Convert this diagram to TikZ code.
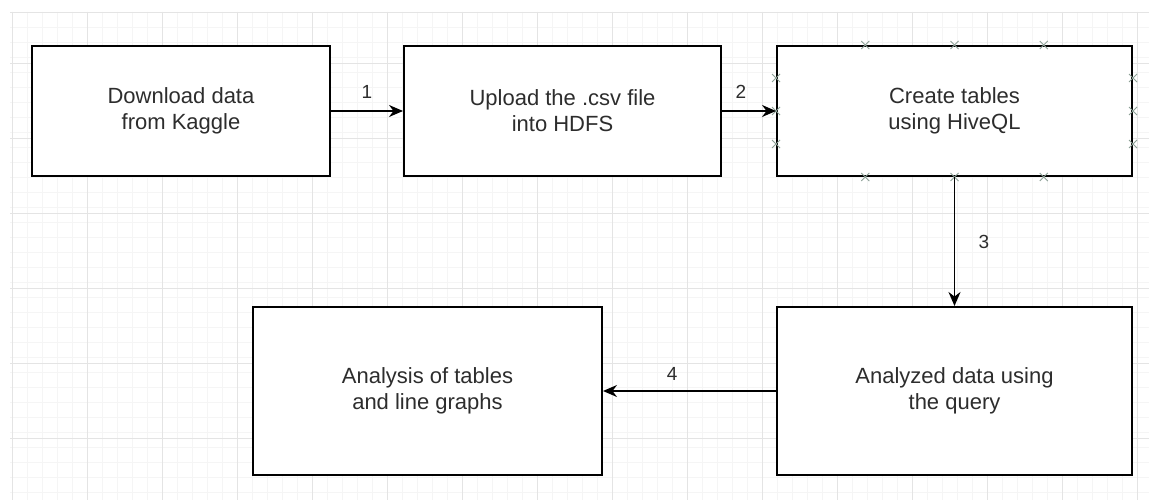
\documentclass[tikz,border=0pt]{standalone}
\usepackage{fontspec}
\setmainfont{Liberation Sans}
\usetikzlibrary{arrows.meta,positioning,calc}
\definecolor{gridmajor}{RGB}{228,228,228}
\definecolor{gridminor}{RGB}{245,245,245}
\definecolor{txtgray}{RGB}{45,45,45}
\definecolor{pingray}{RGB}{140,160,150}

\begin{document}
\begin{tikzpicture}[x=1pt,y=-1pt,
  stepbox/.style={draw=black, line width=2pt, fill=white, text=txtgray, align=center,
    font=\fontsize{22}{26}\selectfont, inner sep=0pt},
  flow/.style={draw=black, line width=1.8pt, -{Stealth[length=14pt,width=12pt]}},
  steplabel/.style={font=\fontsize{19}{21}\selectfont, text=txtgray},
  pin/.style={draw=pingray, line width=0.9pt}]
\useasboundingbox (0,0) rectangle (1149,500);
\fill[white] (0,0) rectangle (1149,500);
% Background grid
\foreach \gx in {12,27,...,1149} \draw[gridminor, line width=0.6pt] (\gx,12) -- (\gx,500);
\foreach \gy in {12,27,...,500} \draw[gridminor, line width=0.6pt] (10,\gy) -- (1149,\gy);
\foreach \gx in {12,87,...,1149} \draw[gridmajor, line width=0.8pt] (\gx,12) -- (\gx,500);
\foreach \gy in {12,63,138,213,288,363,438} \draw[gridmajor, line width=0.8pt] (10,\gy) -- (1149,\gy);
% Steps
\node[stepbox, minimum width=298pt, minimum height=130pt] (kaggle) at (181,111) {Download data\\from Kaggle};
\node[stepbox, minimum width=317pt, minimum height=130pt] (hdfs) at (562.5,111) {Upload the .csv file\\into HDFS};
\node[stepbox, minimum width=355pt, minimum height=130pt] (hive) at (954.5,111) {Create tables\\using HiveQL};
\node[stepbox, minimum width=355pt, minimum height=168pt] (query) at (954.5,391) {Analyzed data using\\the query};
\node[stepbox, minimum width=349pt, minimum height=168pt] (graphs) at (427.5,391) {Analysis of tables\\and line graphs};
% Connection points on the selected box
\foreach \f in {0.25,0.5,0.75} {
  \coordinate (pa) at ($(hive.north west)!\f!(hive.north east)$);
  \coordinate (pb) at ($(hive.south west)!\f!(hive.south east)$);
  \coordinate (pc) at ($(hive.north west)!\f!(hive.south west)$);
  \coordinate (pd) at ($(hive.north east)!\f!(hive.south east)$);
  \foreach \p in {pa,pb,pc,pd}
    \draw[pin] ($(\p)+(-4,-4)$) -- ($(\p)+(4,4)$) ($(\p)+(-4,4)$) -- ($(\p)+(4,-4)$);
}
% Flow
\draw[flow] (kaggle.east) -- node[steplabel, above=8pt] {1} (hdfs.west);
\draw[flow] (hdfs.east) -- node[steplabel, pos=0.35, above=8pt] {2} (hive.west);
\draw[flow] (hive.south) -- node[steplabel, right=20pt] {3} (query.north);
\draw[flow] (query.west) -- node[steplabel, pos=0.6, above=6pt] {4} (graphs.east);
\end{tikzpicture}
\end{document}
